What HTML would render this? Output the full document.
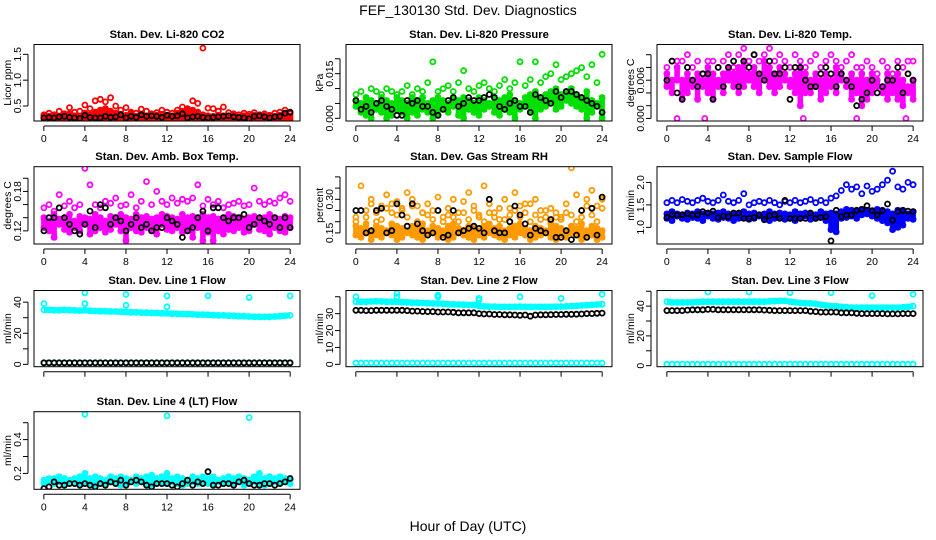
<!DOCTYPE html>
<html><head><meta charset="utf-8"><style>
html,body{margin:0;padding:0;background:#fff;}
svg{display:block;font-family:"Liberation Sans",sans-serif;}
</style></head><body>
<svg id="chart" width="936" height="540" viewBox="0 0 936 540" xmlns="http://www.w3.org/2000/svg">
<rect x="0" y="0" width="936" height="540" fill="#fff"/>
<text x="468" y="15" text-anchor="middle" font-size="14">FEF_130130  Std. Dev. Diagnostics</text>
<text x="468" y="531" text-anchor="middle" font-size="14">Hour of Day (UTC)</text>
</svg>
<script>
// hours for half-hourly series
const hours = [0,0.5,1,1.5,2,2.5,3,3.5,4,4.5,5,5.5,6,6.5,7,7.5,8,8.5,9,9.5,10,10.5,11,11.5,12,12.5,13,13.5,14,14.5,15,15.5,16,16.5,17,17.5,18,18.5,19,19.5,20,20.5,21,21.5,22,22.5,23,23.5,24];
const xTicks = [0,4,8,12,16,20,24];

// Panel 1 CO2
const co2Low = [.25,.24,.26,.23,.25,.24,.26,.25,.24,.23,.25,.27,.25,.24,.26,.25,.23,.25,.24,.26,.25,.24,.25,.26,.23,.24,.25,.24,.26,.25,.23,.25,.24,.26,.25,.24,.25,.23,.26,.24,.25,.24,.23,.25,.26,.24,.25,.26,.24];
const co2Mid = [.31,.3,.33,.29,.32,.35,.31,.3,.36,.33,.38,.42,.45,.4,.36,.34,.32,.35,.3,.33,.31,.3,.32,.34,.3,.31,.36,.4,.45,.42,.38,.33,.31,.3,.32,.31,.3,.33,.29,.31,.3,.32,.3,.31,.29,.3,.32,.35,.3];
const co2High = [.33,.36,.3,.4,.35,.47,.38,.4,.52,.45,.6,.63,.58,.66,.5,.42,.47,.38,.36,.44,.4,.35,.37,.42,.38,.36,.42,.48,.38,.6,.55,1.62,.46,.45,.4,.48,.37,.35,.33,.36,.34,.37,.33,.35,.32,.36,.38,.42,.35];
const co2Black = [.27,.28,.27,.29,.3,.28,.27,.26,.32,.28,.27,.27,.3,.28,.29,.33,.27,.3,.28,.33,.3,.31,.3,.28,.32,.3,.31,.35,.27,.29,.3,.28,.27,.28,.29,.3,.31,.29,.28,.27,.25,.3,.31,.29,.27,.29,.3,.36,.38];
// Panel 2 Pressure
const presLow = [.004,.002,.001,0,.003,.002,0,.001,.003,.002,0,.002,.001,.003,.002,0,.001,.003,.002,.004,.001,0,.003,.002,.001,.003,.004,.002,.001,.003,.002,0,.003,.004,.002,0,.003,.004,.005,.003,.004,.006,.005,.004,.003,0,.002,.004,0];
const presMid = [.006,.005,.007,.006,.005,.007,.006,.005,.007,.006,.005,.007,.006,.007,.005,.006,.007,.006,.005,.007,.006,.007,.006,.005,.007,.006,.005,.007,.006,.007,.008,.006,.005,.007,.008,.009,.007,.008,.009,.01,.008,.009,.01,.008,.007,.009,.006,.005,.007];
const presHigh = [.008,.009,.007,.01,.009,.008,.01,.009,.008,.009,.011,.008,.01,.009,.012,.019,.009,.01,.011,.009,.012,.016,.01,.009,.011,.012,.01,.009,.011,.013,.01,.012,.019,.011,.013,.019,.012,.014,.015,.018,.013,.014,.015,.016,.017,.014,.018,.012,.0215];
const presBlack = [.006,.003,.004,.002,.005,.006,.004,.003,.001,.001,.006,.005,.006,.004,.004,.002,.001,.003,.006,.007,.004,.005,.007,.006,.006,.007,.008,.007,.004,.003,.005,.006,.004,.004,.002,.008,.007,.006,.005,.009,.007,.009,.009,.008,.007,.006,.005,.004,.002];
// Panel 3 Li-820 Temp
const tempLow = [.005,.004,.006,.003,.004,.005,.003,.005,.004,.003,.005,.004,.006,.005,.004,.005,.006,.005,.004,.006,.005,.004,.005,.006,.005,.004,.002,.004,.004,.005,.003,.004,.005,.004,.006,.005,.003,.004,.002,.003,.004,.005,.004,.003,.004,.003,.002,.004,.003];
const tempMid = [.007,.006,.008,.006,.007,.006,.007,.006,.008,.007,.006,.007,.008,.007,.008,.009,.007,.008,.007,.009,.008,.007,.008,.007,.006,.007,.008,.007,.006,.007,.006,.007,.006,.008,.007,.006,.007,.006,.007,.006,.007,.006,.005,.007,.006,.007,.006,.005,.006];
const tempHigh = [.008,.009,.009,.009,.01,.008,.009,.007,.009,.009,.008,.009,.01,.008,.01,.011,.009,.01,.009,.01,.011,.009,.01,.009,.008,.01,.009,.008,.009,.01,.008,.009,.01,.009,.008,.009,.01,.008,.008,.009,.008,.007,.009,.008,.007,.009,.008,.009,.009];
const tempOutHours = [1,3.7,13.3,18.5,23.3];
const tempOutVals = [0,0,0,0,0];
const tempBlack = [.006,.009,.004,.003,.008,.006,.005,.007,.007,.003,.008,.005,.008,.009,.005,.009,.008,.01,.007,.006,.009,.007,.007,.008,.003,.008,.008,.006,.005,.005,.007,.008,.007,.005,.007,.006,.005,.002,.003,.004,.006,.004,.005,.006,.006,.008,.004,.007,.006];
// Panel 4 Amb Box Temp
const ambLow = [.125,.12,.11,.13,.122,.118,.125,.12,.13,.115,.12,.125,.118,.122,.13,.12,.105,.125,.12,.118,.125,.12,.115,.13,.122,.12,.125,.118,.12,.11,.125,.105,.118,.105,.12,.115,.122,.12,.125,.118,.12,.13,.122,.12,.115,.125,.12,.118,.125];
const ambMid = [.14,.135,.145,.138,.14,.145,.135,.142,.14,.138,.145,.14,.135,.142,.14,.145,.14,.138,.145,.14,.142,.138,.14,.145,.142,.14,.138,.145,.14,.142,.138,.145,.14,.142,.138,.14,.145,.142,.14,.138,.14,.142,.138,.14,.145,.14,.138,.142,.14];
const ambHigh = [.155,.16,.15,.175,.158,.165,.155,.16,.215,.19,.16,.155,.165,.162,.17,.158,.16,.175,.155,.165,.195,.16,.18,.165,.16,.17,.162,.168,.165,.17,.19,.158,.168,.16,.165,.155,.16,.162,.165,.158,.16,.185,.165,.16,.165,.162,.17,.175,.165];
const ambBlack = [.12,.14,.14,.155,.14,.13,.12,.115,.13,.15,.125,.16,.155,.13,.14,.135,.12,.13,.14,.125,.13,.12,.125,.125,.14,.135,.13,.11,.12,.125,.14,.15,.12,.155,.155,.14,.135,.14,.14,.145,.125,.13,.14,.135,.13,.14,.125,.14,.125];
// Panel 5 Gas Stream RH
const rhLow = [.14,.13,.15,.12,.14,.13,.15,.14,.12,.13,.15,.14,.13,.12,.14,.15,.13,.14,.12,.13,.15,.14,.13,.12,.14,.13,.15,.14,.13,.12,.14,.13,.15,.14,.12,.13,.14,.15,.13,.12,.14,.13,.15,.14,.12,.13,.14,.12,.13];
const rhMid = [.18,.17,.19,.16,.18,.17,.16,.19,.18,.17,.16,.18,.17,.19,.16,.18,.17,.16,.18,.19,.17,.16,.18,.17,.16,.18,.19,.17,.18,.16,.17,.18,.19,.17,.16,.18,.17,.16,.19,.18,.17,.16,.18,.17,.19,.16,.18,.17,.16];
const rhUpper = [.2,.25,.22,.3,.24,.21,.26,.28,.23,.25,.22,.27,.2,.24,.23,.21,.25,.2,.23,.22,.2,.24,.21,.25,.22,.2,.24,.22,.26,.21,.23,.25,.22,.28,.2,.23,.21,.25,.2,.22,.21,.24,.23,.2,.22,.27,.23,.2,.26];
const rhHigh = [.22,.36,.25,.28,.2,.27,.32,.24,.29,.26,.33,.3,.27,.24,.28,.25,.31,.22,.26,.3,.24,.29,.33,.27,.23,.36,.28,.24,.21,.3,.26,.33,.27,.24,.28,.3,.25,.22,.26,.24,.22,.28,.44,.32,.25,.3,.34,.27,.3];
const rhBlack = [.25,.25,.15,.16,.25,.26,.15,.16,.28,.23,.18,.28,.19,.16,.14,.15,.25,.13,.14,.25,.15,.16,.17,.18,.17,.15,.3,.16,.15,.15,.2,.27,.23,.19,.14,.17,.16,.15,.21,.13,.13,.16,.12,.14,.25,.13,.26,.14,.31];
// Panel 6 Sample Flow
const sfLow = [1.2,1.15,1.25,1.2,1.18,1.22,1.2,1.15,1.25,1.2,1.18,1.22,1.2,1.15,1.2,1.22,1.18,1.2,1.25,1.2,1.15,1.2,1.22,1.18,1.2,1.15,1.2,1.25,1.18,1.2,1.22,1.15,.95,.9,1.2,1.22,1.25,1.2,1.28,1.3,1.25,1.2,1.15,1.1,.95,1.0,1.05,1.2,1.18];
const sfMid = [1.3,1.35,1.3,1.28,1.32,1.3,1.35,1.3,1.28,1.3,1.32,1.35,1.3,1.28,1.3,1.35,1.3,1.32,1.28,1.3,1.35,1.3,1.32,1.3,1.28,1.35,1.3,1.32,1.3,1.28,1.35,1.3,1.32,1.3,1.35,1.4,1.38,1.35,1.4,1.38,1.35,1.4,1.38,1.35,1.3,1.38,1.35,1.3,1.35];
const sfHigh = [1.55,1.6,1.55,1.62,1.58,1.55,1.6,1.65,1.58,1.55,1.6,1.72,1.58,1.55,1.6,1.75,1.5,1.55,1.58,1.55,1.6,1.55,1.5,1.58,1.55,1.6,1.55,1.58,1.62,1.55,1.6,1.55,1.65,1.7,1.82,1.95,1.85,1.9,1.75,1.92,1.8,1.85,1.95,2.05,2.25,1.9,1.85,2.0,1.95];
const sfBlack = [1.22,1.28,1.27,1.28,1.3,1.27,1.28,1.35,1.32,1.36,1.22,1.25,1.24,1.32,1.32,1.2,1.2,1.22,1.28,1.17,1.26,1.28,1.2,1.6,1.2,1.2,1.2,1.2,1.32,1.2,1.22,1.24,.7,1.38,1.24,1.27,1.28,1.38,1.4,1.48,1.37,1.27,1.37,1.52,1.16,1.35,1.38,1.36,1.35];
// Panel 7 Line 1 Flow
const l1Band = [35,35,34.8,34.8,35,34.8,34.7,34.6,34.8,34.5,34.3,34.2,34.2,34,34,33.8,33.7,33.5,33.5,33.3,33.2,33,33,32.8,32.8,32.6,32.5,32.4,32.3,32.2,32,32,31.8,31.7,31.5,31.5,31.3,31.2,31,31,30.8,30.6,30.5,30.5,30.6,30.8,31,31.2,31.5];
const l1Low = [1,1,1,1,1,1,1,1,1,1,1,1,1,1,1,1,1,1,1,1,1,1,1,1,1,1,1,1,1,1,1,1,1,1,1,1,1,1,1,1,1,1,1,1,1,1,1,1,1];
const l1OutHours = [0,4,4,8,8,12,12,16,20,24];
const l1OutVals = [39,46,39,45,38,44,37,44,43,44];
// Panel 8 Line 2 Flow
const l2Band = [37,37,37,37.2,37.3,37.2,37,37,37,36.8,36.7,36.5,36.5,36.3,36.2,36,36,35.8,35.6,35.5,35.4,35.3,35.2,35.2,34.5,34.3,34.2,34.2,34,34,34,34,34.2,34,34,34,34,34,34,34.2,34.2,34.3,34.5,34.6,34.8,35,35.2,35.4,35.6];
const l2Black = [32,32,31.8,31.8,32,32,32,32,32,32,31.8,31.5,31.5,31.3,31.2,31.2,31,31,31,30.8,30.5,30.5,30.5,30.5,30,29.8,29.8,29.5,29.5,29.3,29.3,29.2,29,29.2,28.5,29.2,29.3,29.3,29.4,29.5,29.5,29.6,29.6,29.7,29.8,30,30,30.2,30.3];
const l2Low = [.8,.8,.8,.8,.8,.8,.8,.8,.8,.8,.8,.8,.8,.8,.8,.8,.8,.8,.8,.8,.8,.8,.8,.8,.8,.8,.8,.8,.8,.8,.8,.8,.8,.8,.8,.8,.8,.8,.8,.8,.8,.8,.8,.8,.8,.8,.8,.8,.8];
const l2OutHours = [0,4,4,8,8,12,12,16,20,24];
const l2OutVals = [40,42,40,41,40,39,38,40,39,41.5];
// Panel 9 Line 3 Flow
const l3Band = [43,42.5,42.5,42.5,42.5,42.6,42.8,43,43,43,43,43,43,43,43,43,43,43,43,43,43.2,43.4,43.5,43.5,43,42.5,42.2,42,41.8,41.5,41,40.5,40,40,39.5,39.3,39,39,39,39,39,39,39,39,39,39,39.2,39.5,40];
const l3Black = [37,37,37,37,37.3,37.5,37.5,37.5,37.8,37.8,37.5,37.5,37.5,37.5,37.5,37.5,37.5,37.5,37.5,37.3,37.2,37,37,37,37,37,37,37,36.5,36.3,36,36,36,36,35.5,35.5,35.5,35.2,35,35,35,35,35,34.8,34.8,34.8,35,35,35];
const l3Low = [1,1,1,1,1,1,1,1,1,1,1,1,1,1,1,1,1,1,1,1,1,1,1,1,1,1,1,1,1,1,1,1,1,1,1,1,1,1,1,1,1,1,1,1,1,1,1,1,1];
const l3OutHours = [4,8,12,16,20,24];
const l3OutVals = [49.5,49.5,49,49,47,48];
// Panel 10 Line 4 Flow
const l4Low = [.14,.15,.14,.15,.13,.14,.15,.14,.15,.14,.13,.15,.14,.15,.14,.13,.14,.15,.14,.15,.14,.13,.14,.15,.14,.15,.14,.13,.14,.15,.14,.15,.14,.13,.15,.14,.15,.14,.15,.13,.14,.15,.14,.13,.14,.15,.14,.15,.14];
const l4High = [.16,.17,.17,.18,.17,.16,.17,.18,.2,.17,.18,.17,.16,.18,.17,.18,.17,.16,.18,.17,.18,.19,.17,.18,.2,.17,.18,.17,.16,.18,.17,.18,.17,.18,.16,.17,.18,.17,.18,.17,.16,.18,.2,.17,.18,.17,.18,.17,.16];
const l4Black = [.11,.12,.15,.13,.13,.14,.14,.13,.14,.13,.12,.14,.13,.15,.14,.16,.13,.15,.16,.15,.13,.12,.14,.14,.14,.13,.12,.14,.16,.13,.15,.14,.21,.13,.13,.14,.14,.13,.15,.16,.14,.13,.13,.14,.14,.13,.14,.15,.17];
const l4OutHours = [4,12,20];
const l4OutVals = [.55,.54,.53];

const svg = document.getElementById('chart');
const NS = 'http://www.w3.org/2000/svg';
const cols = [34, 346, 657];
const rows = [[44.5,121],[166.7,244],[290.5,366.7],[411.7,489.3]];
const W = 266;

const panels = [
 {id:'co2',title:'Stan. Dev. Li-820 CO2',yl:'Licor ppm',c:0,r:0,dom:[0.21,1.69],ticks:[0.5,1.0,1.5],labels:['0.5','1.0','1.5'],xl:true,range:[co2Low,co2Mid,'#ff0000'],
  series:[[hours,co2Low,'#ff0000'],[hours,co2Mid,'#ff0000'],[hours,co2High,'#ff0000'],[hours,co2Black,'#000']]},
 {id:'pressure',title:'Stan. Dev. Li-820 Pressure',yl:'kPa',c:1,r:0,dom:[-0.0009,0.0248],ticks:[0,0.005,0.01,0.015,0.02],labels:['0.000','','','0.015',''],xl:true,range:[presLow,presMid,'#00e000'],
  series:[[hours,presLow,'#00e000'],[hours,presMid,'#00e000'],[hours,presHigh,'#00e000'],[hours,presBlack,'#000']]},
 {id:'li820-temp',title:'Stan. Dev. Li-820 Temp.',yl:'degrees C',c:2,r:0,dom:[-0.0004,0.0116],ticks:[0,0.002,0.004,0.006,0.008,0.010],labels:['0.000','','','0.006','',''],xl:true,range:[tempLow,tempMid,'#ff00ff'],
  series:[[hours,tempLow,'#ff00ff'],[hours,tempMid,'#ff00ff'],[hours,tempHigh,'#ff00ff'],[tempOutHours,tempOutVals,'#ff00ff'],[hours,tempBlack,'#000']]},
 {id:'amb-box-temp',title:'Stan. Dev. Amb. Box Temp.',yl:'degrees C',c:0,r:1,dom:[0.100,0.2176],ticks:[0.12,0.14,0.16,0.18,0.20],labels:['0.12','','','0.18',''],xl:true,range:[ambLow,ambMid,'#ff00ff'],
  series:[[hours,ambLow,'#ff00ff'],[hours,ambMid,'#ff00ff'],[hours,ambHigh,'#ff00ff'],[hours,ambBlack,'#000']]},
 {id:'gas-stream-rh',title:'Stan. Dev. Gas Stream RH',yl:'percent',c:1,r:1,dom:[0.1005,0.4455],ticks:[0.15,0.2,0.25,0.3,0.35,0.4],labels:['0.15','','','0.30','',''],xl:true,range:[rhLow,rhMid,'#ff9a00'],
  series:[[hours,rhLow,'#ff9a00'],[hours,rhMid,'#ff9a00'],[hours,rhUpper,'#ff9a00'],[hours,rhHigh,'#ff9a00'],[hours,rhBlack,'#000']]},
 {id:'sample-flow',title:'Stan. Dev. Sample Flow',yl:'ml/min',c:2,r:1,dom:[0.63,2.35],ticks:[1.0,1.5,2.0],labels:['1.0','1.5','2.0'],xl:true,range:[sfLow,sfMid,'#0000ff'],
  series:[[hours,sfLow,'#0000ff'],[hours,sfMid,'#0000ff'],[hours,sfHigh,'#0000ff'],[hours,sfBlack,'#000']]},
 {id:'line1-flow',title:'Stan. Dev. Line 1 Flow',yl:'ml/min',c:0,r:2,dom:[-1.5,47.5],ticks:[0,10,20,30,40],labels:['0','','20','','40'],xl:false,band:l1Band,
  series:[[hours,l1Band,'#00ffff'],[l1OutHours,l1OutVals,'#00ffff'],[hours,l1Low,'#00ffff'],[hours,l1Low,'#000']]},
 {id:'line2-flow',title:'Stan. Dev. Line 2 Flow',yl:'ml/min',c:1,r:2,dom:[-1.4,43.7],ticks:[0,10,20,30,40],labels:['0','10','20','30',''],xl:false,band:l2Band,
  series:[[hours,l2Band,'#00ffff'],[l2OutHours,l2OutVals,'#00ffff'],[hours,l2Low,'#00ffff'],[hours,l2Black,'#000']]},
 {id:'line3-flow',title:'Stan. Dev. Line 3 Flow',yl:'ml/min',c:2,r:2,dom:[-0.7,50.5],ticks:[0,10,20,30,40,50],labels:['0','','20','','40',''],xl:false,band:l3Band,
  series:[[hours,l3Band,'#00ffff'],[l3OutHours,l3OutVals,'#00ffff'],[hours,l3Low,'#00ffff'],[hours,l3Black,'#000']]},
 {id:'line4-flow',title:'Stan. Dev. Line 4 (LT) Flow',yl:'ml/min',c:0,r:3,dom:[0.106,0.565],ticks:[0.2,0.3,0.4,0.5],labels:['0.2','','0.4',''],xl:true,range:[l4Low,l4High,'#00ffff'],
  series:[[hours,l4Low,'#00ffff'],[hours,l4High,'#00ffff'],[l4OutHours,l4OutVals,'#00ffff'],[hours,l4Black,'#000']]}
];

function mk(tag, attrs, parent){
  const e = document.createElementNS(NS, tag);
  for (const k in attrs) e.setAttribute(k, attrs[k]);
  parent.appendChild(e);
  return e;
}

panels.forEach(p => {
  const L = cols[p.c], R = L + W, T = rows[p.r][0], B = rows[p.r][1];
  const xs = h => L + W*(h + 0.96)/25.92;
  const ys = v => B - (v - p.dom[0])/(p.dom[1]-p.dom[0])*(B-T);
  const g = mk('g', {}, svg);
  
  
  const t = mk('text', {x:L+W/2, y:T-6.5, 'text-anchor':'middle','font-size':'11.2','font-weight':'bold'}, g);
  t.textContent = p.title;
  
  
  const clip = mk('clipPath', {id:'clip-'+p.id}, g);
  mk('rect', {x:L, y:T, width:W, height:B-T}, clip);
  const marks = mk('g', {'clip-path':'url(#clip-'+p.id+')'}, g);
  
  
  if (p.band) {
    const pl = mk('polyline', {points: hours.map((h,i)=>xs(h).toFixed(1)+','+ys(p.band[i]).toFixed(1)).join(' '), fill:'none', stroke:'#00ffff','stroke-width':'6'}, marks);
    
    
  }
  if (p.range) {
    const lo = p.range[0], hi = p.range[1], col = p.range[2];
    hours.forEach((h,i) => {
      const y1 = ys(lo[i]), y2 = ys(hi[i]);
      const ln = mk('line', {x1:xs(h).toFixed(1), x2:xs(h).toFixed(1), y1:(Math.max(y1,y2)+2.5).toFixed(1), y2:(Math.min(y1,y2)-2.5).toFixed(1), stroke:col, 'stroke-width':'5.6'}, marks);
      
      
    });
  }
  p.series.forEach(s => {
    const hx = s[0], vals = s[1], col = s[2];
    vals.forEach((v,i) => {
      const c = mk('circle', {cx:xs(hx[i]).toFixed(1), cy:ys(v).toFixed(1), r:'2.5', fill:'none', stroke:col, 'stroke-width':'1.8'}, marks);
      
      
    });
  });
  const box = mk('rect', {x:L, y:T, width:W, height:B-T, fill:'none', stroke:'#000', 'stroke-width':'1'}, g);
  
  
  const xa = mk('g', {}, g);
  
  
  const ay = B + 5;
  mk('line', {x1:xs(0), x2:xs(24), y1:ay, y2:ay, stroke:'#000'}, xa);
  xTicks.forEach(h => {
    mk('line', {x1:xs(h), x2:xs(h), y1:ay, y2:ay+5, stroke:'#000'}, xa);
    if (p.xl) {
      const tl = mk('text', {x:xs(h), y:ay+16, 'text-anchor':'middle','font-size':'10.5'}, xa);
      tl.textContent = h;
      
      
    }
  });
  const ya = mk('g', {}, g);
  
  
  const ax = L - 6;
  mk('line', {x1:ax, x2:ax, y1:ys(p.ticks[0]), y2:ys(p.ticks[p.ticks.length-1]), stroke:'#000'}, ya);
  p.ticks.forEach((v,i) => {
    const y = ys(v);
    mk('line', {x1:ax-5, x2:ax, y1:y, y2:y, stroke:'#000'}, ya);
    if (p.labels[i]) {
      const tl = mk('text', {x:0, y:0, 'text-anchor':'middle','font-size':'10.5', transform:'translate('+(L-13)+','+y+') rotate(-90)'}, ya);
      tl.textContent = p.labels[i];
      
      
    }
  });
  const yt = mk('text', {x:0, y:0, 'text-anchor':'middle','font-size':'10.5', transform:'translate('+(L-23)+','+((T+B)/2)+') rotate(-90)'}, ya);
  yt.textContent = p.yl;
  
  
});
</script>
</body></html>
